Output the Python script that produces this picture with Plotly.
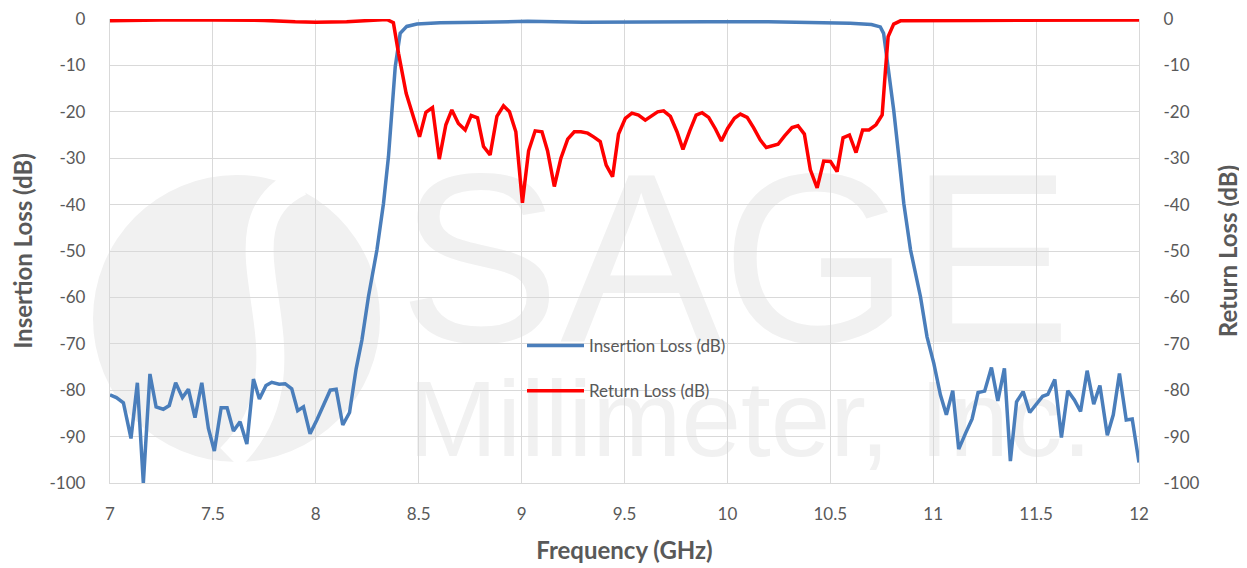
import plotly.graph_objects as go

# ---------------- data ----------------
il_freq = [7.000, 7.031, 7.065, 7.102, 7.133, 7.162, 7.194, 7.224, 7.259, 7.288,
           7.319, 7.352, 7.381, 7.413, 7.446, 7.478, 7.507, 7.540, 7.569, 7.600,
           7.632, 7.665, 7.697, 7.726, 7.758, 7.786, 7.822, 7.851, 7.883, 7.912,
           7.940, 7.972, 8.005, 8.034, 8.070, 8.099, 8.131, 8.164, 8.196, 8.224,
           8.256, 8.297, 8.329, 8.353, 8.369, 8.386, 8.410, 8.442, 8.491, 8.604,
           8.800, 9.030, 9.300, 9.600, 9.900, 10.200, 10.550, 10.597, 10.700, 10.743,
           10.759, 10.784, 10.808, 10.833, 10.857, 10.890, 10.938, 10.970, 11.003, 11.035,
           11.064, 11.095, 11.124, 11.157, 11.189, 11.218, 11.250, 11.283, 11.314, 11.346,
           11.375, 11.405, 11.437, 11.469, 11.500, 11.532, 11.557, 11.591, 11.623, 11.654,
           11.686, 11.716, 11.748, 11.780, 11.810, 11.846, 11.875, 11.905, 11.938, 11.967,
           12.000]
il_db = [-81.0, -81.6, -82.7, -90.4, -78.4, -100.0, -76.5, -83.6, -84.1, -83.3,
         -78.4, -81.6, -79.8, -85.9, -78.4, -88.2, -93.1, -83.8, -83.8, -88.8,
         -86.8, -91.6, -77.6, -81.9, -79.0, -78.3, -78.7, -78.6, -79.7, -84.4,
         -83.6, -89.4, -86.4, -83.6, -80.0, -79.8, -87.5, -84.8, -75.4, -69.2,
         -59.8, -49.8, -39.7, -29.7, -19.6, -10.3, -3.1, -1.6, -1.1, -0.8,
         -0.7, -0.5, -0.7, -0.6, -0.6, -0.6, -0.8, -0.9, -1.2, -1.7,
         -3.1, -11.0, -19.6, -29.7, -39.7, -49.8, -59.8, -68.5, -74.2, -81.0,
         -85.3, -80.1, -92.7, -89.3, -86.2, -80.5, -80.2, -75.1, -82.3, -75.3,
         -95.3, -82.5, -80.3, -84.8, -83.2, -81.3, -80.9, -77.7, -90.2, -80.1,
         -82.1, -84.6, -75.8, -83.0, -79.0, -89.7, -85.3, -76.4, -86.4, -86.2,
         -95.6]

rl_freq = [7.000, 7.250, 7.500, 7.750, 7.900, 8.000, 8.150, 8.300, 8.345, 8.377,
           8.402, 8.439, 8.471, 8.504, 8.535, 8.567, 8.600, 8.632, 8.661, 8.693,
           8.726, 8.755, 8.786, 8.815, 8.847, 8.880, 8.912, 8.941, 8.972, 9.004,
           9.034, 9.066, 9.099, 9.126, 9.159, 9.191, 9.224, 9.256, 9.288, 9.321,
           9.350, 9.382, 9.411, 9.442, 9.471, 9.504, 9.536, 9.568, 9.601, 9.634,
           9.661, 9.690, 9.723, 9.755, 9.784, 9.817, 9.848, 9.877, 9.909, 9.942,
           9.971, 10.001, 10.034, 10.063, 10.096, 10.127, 10.160, 10.189, 10.217, 10.246,
           10.278, 10.314, 10.343, 10.374, 10.403, 10.436, 10.468, 10.501, 10.533, 10.562,
           10.593, 10.625, 10.657, 10.688, 10.722, 10.752, 10.768, 10.781, 10.808, 10.841,
           11.200, 11.500, 11.800, 12.000]
rl_db = [-0.4, -0.2, -0.2, -0.3, -0.6, -0.7, -0.6, -0.3, -0.1, -0.8,
         -7.4, -16.0, -20.7, -25.4, -20.1, -19.1, -30.2, -22.8, -19.6, -22.5,
         -23.9, -20.8, -21.3, -27.5, -29.3, -21.0, -18.7, -20.0, -24.3, -39.6,
         -28.4, -24.1, -24.3, -28.4, -36.1, -30.0, -25.9, -24.3, -24.3, -24.6,
         -25.4, -26.4, -31.5, -34.0, -24.8, -21.4, -20.3, -20.7, -21.8, -20.9,
         -20.0, -19.8, -21.0, -24.3, -28.1, -24.1, -20.7, -20.2, -21.2, -23.7,
         -26.3, -23.6, -21.4, -20.5, -21.2, -23.4, -26.1, -27.7, -27.3, -27.0,
         -25.2, -23.4, -23.0, -24.8, -32.5, -36.4, -30.6, -30.7, -32.9, -25.6,
         -25.0, -28.8, -23.9, -23.9, -22.8, -20.7, -11.0, -3.8, -1.1, -0.4,
         -0.3, -0.3, -0.25, -0.2]

x_ticks = [7, 7.5, 8, 8.5, 9, 9.5, 10, 10.5, 11, 11.5, 12]
x_tick_text = ["7", "7.5", "8", "8.5", "9", "9.5", "10", "10.5", "11", "11.5", "12"]
y_ticks = [0, -10, -20, -30, -40, -50, -60, -70, -80, -90, -100]
y_tick_text = ["0", "-10", "-20", "-30", "-40", "-50", "-60", "-70", "-80", "-90", "-100"]

series_names = ["Insertion Loss (dB)", "Return Loss (dB)"]
series_colors = ["#4A7EBB", "#FF0000"]

# ---------------- figure ----------------
# page has an 8px body margin, so the figure is 8px smaller than the window
W, H = 1239, 560
ML, MR, MT, MB = 102, 108, 11, 85
PW, PH = W - ML - MR, H - MT - MB


def px(xp):  # reference-window pixel x -> paper x
    return (xp - 8 - ML) / PW


def py(yp):  # reference-window pixel y -> paper y
    return (H - MB - (yp - 8)) / PH


TXT = "#595959"
GRID = "#D9D9D9"
FONT = "Lato"
TICK_SIZE = 17
TITLE_SIZE = 24

fig = go.Figure()
fig.add_trace(go.Scatter(x=il_freq, y=il_db, name=series_names[0], mode="lines",
                         line=dict(color=series_colors[0], width=3.5),
                         legendgroup="il"))
fig.add_trace(go.Scatter(x=rl_freq, y=rl_db, name=series_names[1], mode="lines",
                         line=dict(color=series_colors[1], width=3.5),
                         yaxis="y2", legendgroup="rl"))

# faint watermark (logo circle + text), drawn beneath the grid
wm = "#F1F1F1"
shapes = [
    dict(type="circle", xref="paper", yref="paper", layer="below",
         x0=px(93), x1=px(380), y0=py(462), y1=py(175),
         fillcolor=wm, line=dict(width=0)),
    dict(type="path", xref="paper", yref="paper", layer="below",
         path=(f"M {px(300)},{py(182)} C {px(200)},{py(230)} {px(330)},{py(360)} "
               f"{px(230)},{py(458)}"),
         line=dict(color="white", width=28)),
    dict(type="rect", xref="paper", yref="paper", layer="below",
         x0=px(400), x1=px(1070), y0=py(330), y1=py(140),
         line=dict(width=0), fillcolor="rgba(0,0,0,0)",
         label=dict(text="SAGE", font=dict(family="Liberation Sans", size=242, color=wm),
                    textposition="middle center")),
    dict(type="rect", xref="paper", yref="paper", layer="below",
         x0=px(400), x1=px(1100), y0=py(459), y1=py(359),
         line=dict(width=0), fillcolor="rgba(0,0,0,0)",
         label=dict(text="Millimeter, Inc.", font=dict(family="Liberation Sans", size=107, color=wm),
                    textposition="middle center")),
]

axis_common = dict(
    showgrid=True, gridcolor=GRID, gridwidth=1.3,
    zeroline=False, showline=True, linecolor=GRID, linewidth=1.3,
    tickfont=dict(family=FONT, size=TICK_SIZE, color=TXT),
    automargin=False, ticklabeloverflow="allow",
)

fig.update_layout(
    width=W, height=H,
    margin=dict(l=ML, r=MR, t=MT, b=MB, pad=0),
    paper_bgcolor="white", plot_bgcolor="rgba(0,0,0,0)",
    font=dict(family=FONT, color=TXT),
    showlegend=True,
    legend=dict(x=px(522), y=py(328), xanchor="left", yanchor="top",
                bgcolor="rgba(0,0,0,0)", font=dict(family=FONT, size=17, color=TXT),
                tracegroupgap=20, itemwidth=57),
    shapes=shapes,
    xaxis=dict(range=[7, 12], tickvals=x_ticks, ticktext=x_tick_text,
               ticklabelstandoff=15,
               title=dict(text="<b>Frequency (GHz)</b>", font=dict(family=FONT, size=TITLE_SIZE, color=TXT),
                          standoff=19),
               **axis_common),
    yaxis=dict(range=[-100, 0], tickvals=y_ticks, ticktext=y_tick_text, ticklabelstandoff=20,
               title=dict(text="<b>Insertion Loss (dB)</b>", font=dict(family=FONT, size=TITLE_SIZE, color=TXT),
                          standoff=12),
               **axis_common),
    yaxis2=dict(range=[-100, 0], tickvals=y_ticks, ticktext=y_tick_text, overlaying="y", side="right",
                showgrid=False, zeroline=False, showline=True, linecolor=GRID, linewidth=1.3,
                tickfont=dict(family=FONT, size=TICK_SIZE, color=TXT), ticklabelstandoff=20,
                automargin=False, ticklabeloverflow="allow",
                title=dict(text="<b>Return Loss (dB)</b>", font=dict(family=FONT, size=TITLE_SIZE, color=TXT),
                           standoff=21)),
)

fig.write_html("out.html")
